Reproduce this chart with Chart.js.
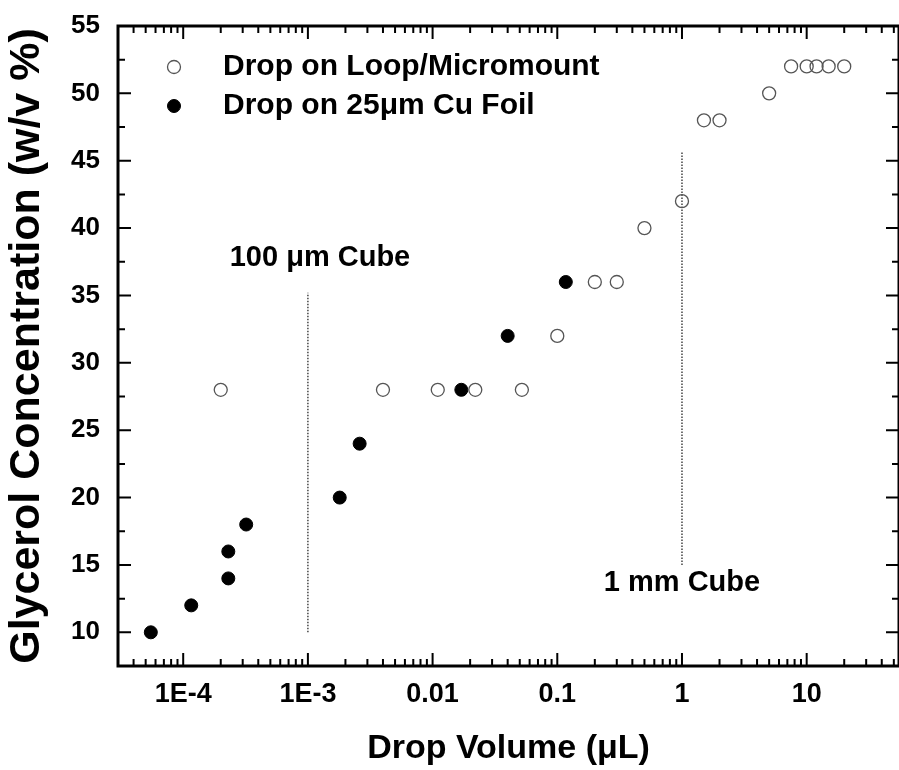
<!DOCTYPE html>
<html>
<head>
<meta charset="utf-8">
<script src="https://cdn.jsdelivr.net/npm/chart.js@4"></script>
<style>
  html, body { margin: 0; padding: 0; background: #fff; overflow: hidden; }
</style>
</head>
<body>
<canvas id="chart" width="899" height="770"></canvas>
<script>
// Drop on Loop/Micromount (open circles)
const loopVolume = [2e-4, 4e-3, 0.011, 0.022, 0.052, 0.1, 0.2, 0.3, 0.5, 1, 1.5, 2, 5, 7.5, 10, 12, 15, 20];
const loopConc   = [28, 28, 28, 28, 28, 32, 36, 36, 40, 42, 48, 48, 50, 52, 52, 52, 52, 52];

// Drop on 25um Cu Foil (filled circles)
const foilVolume = [5.5e-5, 1.16e-4, 2.3e-4, 2.3e-4, 3.2e-4, 1.8e-3, 2.6e-3, 0.017, 0.04, 0.117];
const foilConc   = [10, 12, 14, 16, 18, 20, 24, 28, 32, 36];

// crystal size guides
const cubeLabels     = ['100 \u03bcm Cube', '1 mm Cube'];
const cubeVolume     = [1e-3, 1];
const cubeLineBottom = [10, 15];
const cubeLineTop    = [35.2, 45.7];
const cubeLabelX     = [1.25e-3, 1.0];
const cubeLabelY     = [37.8, 13.65];

// axes
const xMin = 3e-5, xMax = 55;
const yMin = 7.5, yMax = 55;
const xTickValues = [1e-4, 1e-3, 0.01, 0.1, 1, 10];
const xTickLabels = ['1E-4', '1E-3', '0.01', '0.1', '1', '10'];
const yTickValues = [10, 15, 20, 25, 30, 35, 40, 45, 50, 55];

const legendLabels = ['Drop on Loop/Micromount', 'Drop on 25\u03bcm Cu Foil'];

const FONT = 'Liberation Sans, Arial, Helvetica, sans-serif';

const toPoints = (xs, ys) => xs.map((v, i) => ({ x: v, y: ys[i] }));

// inward ticks on all four sides + thick frame, legend, cube labels
const framePlugin = {
  id: 'framePlugin',
  afterDraw(chart) {
    const { ctx, chartArea: a, scales: { x, y } } = chart;
    ctx.save();
    ctx.strokeStyle = '#000';
    ctx.lineWidth = 2;
    ctx.beginPath();
    for (let e = -5; e <= 2; e++) {
      for (let m = 1; m <= 9; m++) {
        const v = m * Math.pow(10, e);
        if (v < xMin || v > xMax) continue;
        const px = x.getPixelForValue(v);
        const len = m === 1 ? 13 : 7;
        ctx.moveTo(px, a.bottom); ctx.lineTo(px, a.bottom - len);
        ctx.moveTo(px, a.top); ctx.lineTo(px, a.top + len);
      }
    }
    for (let v = 10; v <= yMax; v += 2.5) {
      const py = y.getPixelForValue(v);
      const len = v % 5 === 0 ? 13 : 7;
      ctx.moveTo(a.left, py); ctx.lineTo(a.left + len, py);
      ctx.moveTo(a.right, py); ctx.lineTo(a.right - len, py);
    }
    ctx.stroke();
    ctx.lineWidth = 3;
    ctx.strokeRect(a.left, a.top, a.right - a.left, a.bottom - a.top);

    // legend
    const ds = chart.data.datasets;
    ctx.textBaseline = 'middle';
    ctx.textAlign = 'left';
    ctx.font = 'bold 30px ' + FONT;
    [0, 1].forEach(i => {
      const cy = a.top + 41 + i * 39;
      const cx = a.left + 56;
      ctx.beginPath();
      ctx.arc(cx, cy, ds[i].pointRadius, 0, Math.PI * 2);
      ctx.fillStyle = ds[i].pointBackgroundColor;
      ctx.fill();
      ctx.lineWidth = ds[i].pointBorderWidth;
      ctx.strokeStyle = ds[i].pointBorderColor;
      ctx.stroke();
      ctx.fillStyle = '#000';
      ctx.fillText(legendLabels[i], a.left + 105, cy);
    });

    // cube labels
    ctx.font = 'bold 29px ' + FONT;
    ctx.textAlign = 'center';
    cubeLabels.forEach((t, i) => {
      ctx.fillText(t, x.getPixelForValue(cubeLabelX[i]), y.getPixelForValue(cubeLabelY[i]));
    });
    ctx.restore();
  }
};

const guideSets = cubeVolume.map((v, i) => ({
  label: cubeLabels[i],
  data: [{ x: v, y: cubeLineBottom[i] }, { x: v, y: cubeLineTop[i] }],
  showLine: true,
  borderColor: '#444',
  borderWidth: 1.5,
  borderDash: [1.5, 1.5],
  pointRadius: 0
}));

new Chart(document.getElementById('chart'), {
  type: 'scatter',
  data: {
    datasets: [
      {
        label: legendLabels[0],
        data: toPoints(loopVolume, loopConc),
        pointRadius: 6.5,
        pointBorderWidth: 1.3,
        pointBorderColor: '#555',
        pointBackgroundColor: 'rgba(255,255,255,0)'
      },
      {
        label: legendLabels[1],
        data: toPoints(foilVolume, foilConc),
        pointRadius: 6.5,
        pointBorderWidth: 1,
        pointBorderColor: '#000',
        pointBackgroundColor: '#000'
      },
      ...guideSets
    ]
  },
  options: {
    responsive: false,
    animation: false,
    layout: { autoPadding: false, padding: { top: 26, right: 0, left: 0, bottom: 0 } },
    plugins: { legend: { display: false }, tooltip: { enabled: false } },
    scales: {
      x: {
        type: 'logarithmic',
        min: xMin,
        max: xMax,
        afterBuildTicks: s => { s.ticks = xTickValues.map(v => ({ value: v })); },
        afterFit: s => { s.height = 104; s.paddingLeft = 0; s.paddingRight = 0; },
        grid: { display: false, drawTicks: false },
        border: { display: false },
        ticks: {
          autoSkip: false,
          maxRotation: 0,
          padding: 12,
          color: '#000',
          font: { family: FONT, size: 27, weight: 'bold', lineHeight: 1.2 },
          callback: (v, i) => xTickLabels[i]
        },
        title: {
          display: true,
          text: 'Drop Volume (\u03bcL)',
          color: '#000',
          font: { family: FONT, size: 34, weight: 'bold', lineHeight: 1.2 },
          padding: { top: 0, bottom: 1 }
        }
      },
      y: {
        min: yMin,
        max: yMax,
        afterBuildTicks: s => { s.ticks = yTickValues.map(v => ({ value: v })); },
        afterFit: s => { s.width = 118; s.paddingTop = 0; s.paddingBottom = 0; },
        grid: { display: false, drawTicks: false },
        border: { display: false },
        ticks: {
          padding: 18,
          color: '#000',
          font: { family: FONT, size: 26, weight: 'bold', lineHeight: 1.2 }
        },
        title: {
          display: true,
          text: 'Glycerol Concentration (w/v %)',
          color: '#000',
          font: { family: FONT, size: 43, weight: 'bold', lineHeight: 1.2 },
          padding: { top: 1, bottom: 0 }
        }
      }
    }
  },
  plugins: [framePlugin]
});
</script>
</body>
</html>
